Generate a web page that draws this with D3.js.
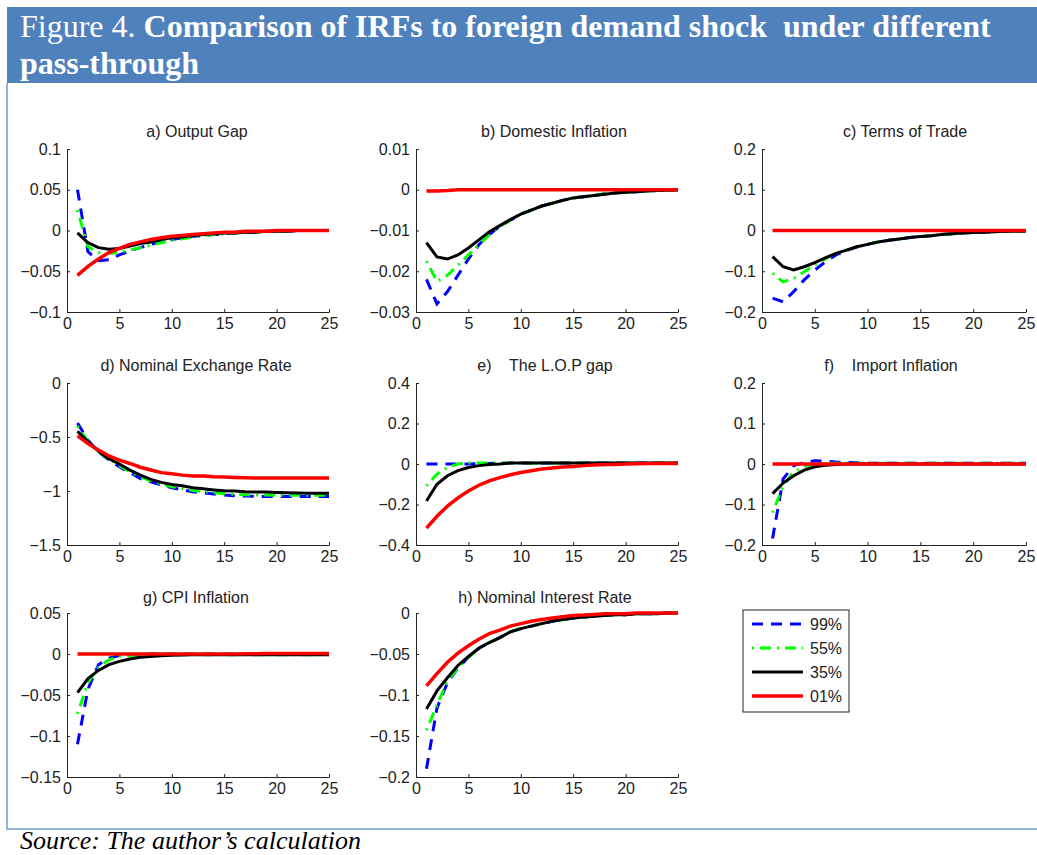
<!DOCTYPE html>
<html>
<head>
<meta charset="utf-8">
<script src="https://cdn.jsdelivr.net/npm/d3@7"></script>
<style>
  body { margin: 0; background: #fff; overflow: hidden; }
  svg { display: block; }
  .tick text { font-family: "Liberation Sans", Arial, sans-serif; font-size: 16px; fill: #222; }
</style>
</head>
<body>
<div id="canvas"></div>
<script>
// periods of the impulse responses
var periods = [1,2,3,4,5,6,7,8,9,10,11,12,13,14,15,16,17,18,19,20,21,22,23,24,25];
var seriesLabels = ["99%", "55%", "35%", "01%"];
var xTicks = [0, 5, 10, 15, 20, 25];

// each panel: series in order 99%, 55%, 35%, 01%
var outputGap = [
  [0.05,-0.026,-0.037,-0.036,-0.03,-0.025,-0.021,-0.017,-0.014,-0.011,-0.009,-0.007,-0.006,-0.005,-0.004,-0.003,-0.002,-0.002,-0.001,-0.001,-0.001,0,0,0,0],
  [0.025,-0.02,-0.027,-0.028,-0.027,-0.024,-0.021,-0.018,-0.015,-0.012,-0.01,-0.008,-0.006,-0.005,-0.004,-0.003,-0.002,-0.002,-0.001,-0.001,-0.001,0,0,0,0],
  [-0.003,-0.015,-0.021,-0.023,-0.022,-0.019,-0.016,-0.014,-0.011,-0.009,-0.008,-0.006,-0.005,-0.004,-0.003,-0.003,-0.002,-0.002,-0.001,-0.001,-0.001,0,0,0,0],
  [-0.055,-0.044,-0.035,-0.027,-0.022,-0.017,-0.014,-0.011,-0.009,-0.007,-0.006,-0.005,-0.004,-0.003,-0.002,-0.002,-0.001,-0.001,-0.001,0,0,0,0,0,0]
];
var domesticInflation = [
  [-0.022,-0.028,-0.025,-0.021,-0.017,-0.0135,-0.011,-0.009,-0.0075,-0.006,-0.005,-0.004,-0.0033,-0.0026,-0.002,-0.0017,-0.0014,-0.001,-0.0008,-0.0006,-0.0005,-0.0003,-0.0002,-0.0001,0],
  [-0.0175,-0.0225,-0.021,-0.0185,-0.016,-0.0135,-0.011,-0.009,-0.0075,-0.006,-0.005,-0.004,-0.0033,-0.0026,-0.002,-0.0017,-0.0014,-0.001,-0.0008,-0.0006,-0.0005,-0.0003,-0.0002,-0.0001,0],
  [-0.013,-0.0165,-0.017,-0.016,-0.0143,-0.0123,-0.0103,-0.0088,-0.0073,-0.006,-0.005,-0.004,-0.0033,-0.0026,-0.002,-0.0017,-0.0014,-0.0011,-0.0008,-0.0006,-0.0005,-0.0003,-0.0002,-0.0001,0],
  [-0.0003,-0.0003,-0.0002,0,0,0,0,0,0,0,0,0,0,0,0,0,0,0,0,0,0,0,0,0,0]
];
var termsOfTrade = [
  [-0.166,-0.175,-0.15,-0.121,-0.097,-0.077,-0.06,-0.049,-0.04,-0.034,-0.028,-0.024,-0.021,-0.017,-0.015,-0.013,-0.01,-0.008,-0.006,-0.005,-0.004,-0.003,-0.002,-0.002,-0.001],
  [-0.105,-0.126,-0.118,-0.101,-0.085,-0.069,-0.057,-0.048,-0.04,-0.034,-0.028,-0.024,-0.021,-0.017,-0.015,-0.013,-0.01,-0.008,-0.006,-0.005,-0.004,-0.003,-0.002,-0.002,-0.001],
  [-0.064,-0.089,-0.097,-0.089,-0.079,-0.067,-0.056,-0.048,-0.04,-0.034,-0.028,-0.024,-0.021,-0.017,-0.015,-0.013,-0.01,-0.008,-0.006,-0.005,-0.004,-0.003,-0.002,-0.002,-0.001],
  [0,0,0,0,0,0,0,0,0,0,0,0,0,0,0,0,0,0,0,0,0,0,0,0,0]
];
var exchangeRate = [
  [-0.37,-0.53,-0.64,-0.71,-0.775,-0.83,-0.885,-0.915,-0.945,-0.97,-0.99,-1.007,-1.016,-1.028,-1.038,-1.044,-1.047,-1.05,-1.05,-1.05,-1.05,-1.05,-1.05,-1.05,-1.05],
  [-0.4,-0.54,-0.635,-0.705,-0.765,-0.82,-0.87,-0.905,-0.935,-0.96,-0.978,-0.995,-1.005,-1.015,-1.025,-1.03,-1.035,-1.037,-1.038,-1.039,-1.04,-1.04,-1.04,-1.04,-1.04],
  [-0.447,-0.545,-0.63,-0.7,-0.75,-0.807,-0.853,-0.893,-0.92,-0.94,-0.952,-0.97,-0.98,-0.99,-0.998,-1.0,-1.007,-1.01,-1.01,-1.013,-1.016,-1.018,-1.02,-1.02,-1.02],
  [-0.49,-0.56,-0.62,-0.675,-0.715,-0.745,-0.78,-0.805,-0.83,-0.84,-0.853,-0.86,-0.862,-0.868,-0.87,-0.875,-0.878,-0.88,-0.88,-0.88,-0.88,-0.88,-0.88,-0.88,-0.88]
];
var lopGap = [
  [0,0,0,0,0,0.002,0.003,0.004,0.005,0.005,0.005,0.005,0.005,0.005,0.005,0.005,0.005,0.005,0.005,0.005,0.005,0.005,0.005,0.005,0.005],
  [-0.108,-0.05,-0.017,0,0.005,0.005,0.005,0.005,0.005,0.005,0.005,0.005,0.005,0.005,0.005,0.005,0.005,0.005,0.005,0.005,0.005,0.005,0.005,0.005,0.005],
  [-0.183,-0.1,-0.058,-0.033,-0.017,-0.008,-0.003,0,0.005,0.005,0.005,0.005,0.005,0.005,0.005,0.005,0.005,0.005,0.005,0.005,0.005,0.005,0.005,0.005,0.005],
  [-0.317,-0.258,-0.208,-0.167,-0.133,-0.105,-0.083,-0.067,-0.053,-0.042,-0.033,-0.025,-0.02,-0.015,-0.012,-0.008,-0.005,-0.003,-0.002,0,0.001,0.002,0.002,0.002,0.002]
];
var importInflation = [
  [-0.184,-0.037,-0.004,0.004,0.008,0.007,0.005,0.004,0.003,0.002,0.002,0.002,0.002,0.002,0.002,0.002,0.002,0.002,0.002,0.002,0.002,0.002,0.002,0.002,0.002],
  [-0.12,-0.054,-0.02,-0.006,0,0.002,0.002,0.002,0.002,0.002,0.002,0.002,0.002,0.002,0.002,0.002,0.002,0.002,0.002,0.002,0.002,0.002,0.002,0.002,0.002],
  [-0.073,-0.047,-0.029,-0.015,-0.007,-0.003,-0.001,0,0,0,0,0,0,0,0,0,0,0,0,0,0,0,0,0,0],
  [0,0,0,0,0,0,0,0,0,0,0,0,0,0,0,0,0,0,0,0,0,0,0,0,0]
];
var cpiInflation = [
  [-0.11,-0.043,-0.013,-0.005,-0.002,-0.001,-0.001,0,0,0,0,0,0,0,0,0,0,0,0,0,0,0,0,0,0],
  [-0.073,-0.035,-0.016,-0.007,-0.003,-0.002,-0.001,-0.001,-0.001,-0.001,-0.001,-0.001,-0.001,-0.001,-0.001,-0.001,-0.001,-0.001,-0.001,-0.001,-0.001,-0.001,-0.001,-0.001,-0.001],
  [-0.047,-0.03,-0.02,-0.013,-0.009,-0.006,-0.004,-0.003,-0.002,-0.0015,-0.0012,-0.001,-0.001,-0.001,-0.001,-0.001,-0.001,-0.001,-0.001,-0.001,-0.001,-0.001,-0.001,-0.001,-0.001],
  [0,0,0,0,0,0,0,0,0,0,0,0,0,0,0,0,0.0003,0.0004,0.0005,0.0005,0.0005,0.0005,0.0005,0.0005,0.0005]
];
var interestRate = [
  [-0.19,-0.116,-0.085,-0.067,-0.054,-0.043,-0.036,-0.03,-0.023,-0.019,-0.016,-0.013,-0.01,-0.008,-0.006,-0.005,-0.004,-0.003,-0.002,-0.002,-0.001,-0.001,-0.001,0,0],
  [-0.143,-0.112,-0.083,-0.067,-0.054,-0.043,-0.036,-0.03,-0.023,-0.019,-0.016,-0.013,-0.01,-0.008,-0.006,-0.005,-0.004,-0.003,-0.002,-0.002,-0.001,-0.001,-0.001,0,0],
  [-0.117,-0.095,-0.079,-0.064,-0.053,-0.043,-0.036,-0.03,-0.023,-0.019,-0.016,-0.013,-0.01,-0.008,-0.006,-0.005,-0.004,-0.003,-0.002,-0.002,-0.001,-0.001,-0.001,0,0],
  [-0.089,-0.074,-0.06,-0.049,-0.04,-0.032,-0.025,-0.021,-0.016,-0.013,-0.01,-0.008,-0.006,-0.0045,-0.003,-0.0025,-0.0017,-0.001,-0.001,-0.001,0,0,0,0,0]
];

var panelTitles = ["a) Output Gap", "b) Domestic Inflation", "c) Terms of Trade",
  "d) Nominal Exchange Rate", "e)    The L.O.P gap", "f)    Import Inflation",
  "g) CPI Inflation", "h) Nominal Interest Rate"];
var panelData = [outputGap, domesticInflation, termsOfTrade, exchangeRate,
  lopGap, importInflation, cpiInflation, interestRate];
var yTicks = [
  [-0.1, -0.05, 0, 0.05, 0.1],
  [-0.03, -0.02, -0.01, 0, 0.01],
  [-0.2, -0.1, 0, 0.1, 0.2],
  [-1.5, -1, -0.5, 0],
  [-0.4, -0.2, 0, 0.2, 0.4],
  [-0.2, -0.1, 0, 0.1, 0.2],
  [-0.15, -0.1, -0.05, 0, 0.05],
  [-0.2, -0.15, -0.1, -0.05, 0]
];

// layout (pixels)
var colLeft = [67, 416, 762], colRight = [329, 678, 1026];
var rowTop = [149, 383, 613], rowBottom = [312, 545, 777];
var titleX = [197, 554, 905, 196, 545, 891, 196, 545];
var titleY = [137, 137, 137, 371, 371, 371, 603, 603];

var colors = ["#0000ff", "#00ff00", "#000000", "#ff0000"];
var dashes = ["11,8", "2,6,11,6", null, null];
var widths = [3, 3, 3, 3.5];

var W = 1037, H = 855;
var svg = d3.select("#canvas").append("svg")
  .attr("width", W).attr("height", H);

// banner
svg.append("rect").attr("x", 7).attr("y", 7).attr("width", W - 7).attr("height", 76)
  .attr("fill", "#4f81bd");
var title = svg.append("text")
  .attr("x", 20).attr("y", 37)
  .attr("font-family", "'Liberation Serif', 'Times New Roman', serif")
  .attr("font-size", 32).attr("fill", "#fff")
  .attr("xml:space", "preserve").style("white-space", "pre");
title.append("tspan").text("Figure 4. ");
title.append("tspan").attr("font-weight", "bold")
  .text("Comparison of IRFs to foreign demand shock  under different");
svg.append("text")
  .attr("x", 20).attr("y", 74)
  .attr("font-family", "'Liberation Serif', 'Times New Roman', serif")
  .attr("font-size", 32).attr("fill", "#fff").attr("font-weight", "bold")
  .text("pass-through");

// frame lines
svg.append("line").attr("x1", 7).attr("x2", 7).attr("y1", 83).attr("y2", 829)
  .attr("stroke", "#95b3d7").attr("stroke-width", 2);
svg.append("line").attr("x1", 6).attr("x2", W).attr("y1", 829).attr("y2", 829)
  .attr("stroke", "#95b3d7").attr("stroke-width", 2);

svg.append("text")
  .attr("x", 20).attr("y", 849)
  .attr("font-family", "'Liberation Serif', 'Times New Roman', serif")
  .attr("font-size", 26).attr("font-style", "italic").attr("fill", "#000")
  .text("Source: The author\u2019s calculation");

var fmt = d3.format("~g");

panelData.forEach(function(series, p) {
  var col = p % 3, row = Math.floor(p / 3);
  var ticks = yTicks[p];

  var x = d3.scaleLinear().domain([0, 25]).range([colLeft[col], colRight[col]]);
  var y = d3.scaleLinear()
    .domain([ticks[0], ticks[ticks.length - 1]])
    .range([rowBottom[row], rowTop[row]]);

  var g = svg.append("g");

  // X axis
  g.append("g")
    .attr("transform", "translate(0," + rowBottom[row] + ")")
    .call(d3.axisBottom(x).tickValues(xTicks).tickSizeInner(-3).tickSizeOuter(0).tickPadding(6));

  // Y axis
  g.append("g")
    .attr("transform", "translate(" + colLeft[col] + ",0)")
    .call(d3.axisLeft(y).tickValues(ticks).tickSizeInner(-3).tickSizeOuter(0).tickPadding(6)
      .tickFormat(fmt));

  g.selectAll(".domain, .tick line").attr("stroke", "#222");

  g.append("text")
    .attr("x", titleX[p]).attr("y", titleY[p])
    .attr("text-anchor", "middle")
    .attr("font-family", "'Liberation Sans', Arial, sans-serif")
    .attr("font-size", 16).attr("fill", "#222")
    .style("white-space", "pre")
    .text(panelTitles[p]);

  var line = d3.line()
    .x(function(d, i) { return x(periods[i]); })
    .y(function(d) { return y(d); });

  series.forEach(function(vals, s) {
    g.append("path")
      .datum(vals)
      .attr("fill", "none")
      .attr("stroke", colors[s])
      .attr("stroke-width", widths[s])
      .attr("stroke-dasharray", dashes[s])
      .attr("d", line);
  });
});

// legend
var legend = svg.append("g");
legend.append("rect")
  .attr("x", 743).attr("y", 610).attr("width", 106).attr("height", 102)
  .attr("fill", "#fff").attr("stroke", "#222").attr("stroke-width", 1);
var legendY = [624, 648, 672, 696];
seriesLabels.forEach(function(lab, s) {
  legend.append("line")
    .attr("x1", 752).attr("x2", 803)
    .attr("y1", legendY[s]).attr("y2", legendY[s])
    .attr("stroke", colors[s]).attr("stroke-width", widths[s])
    .attr("stroke-dasharray", dashes[s]);
  legend.append("text")
    .attr("x", 810).attr("y", legendY[s]).attr("dy", "0.35em")
    .attr("font-family", "'Liberation Sans', Arial, sans-serif")
    .attr("font-size", 16).attr("fill", "#222")
    .text(lab);
});
</script>
</body>
</html>
